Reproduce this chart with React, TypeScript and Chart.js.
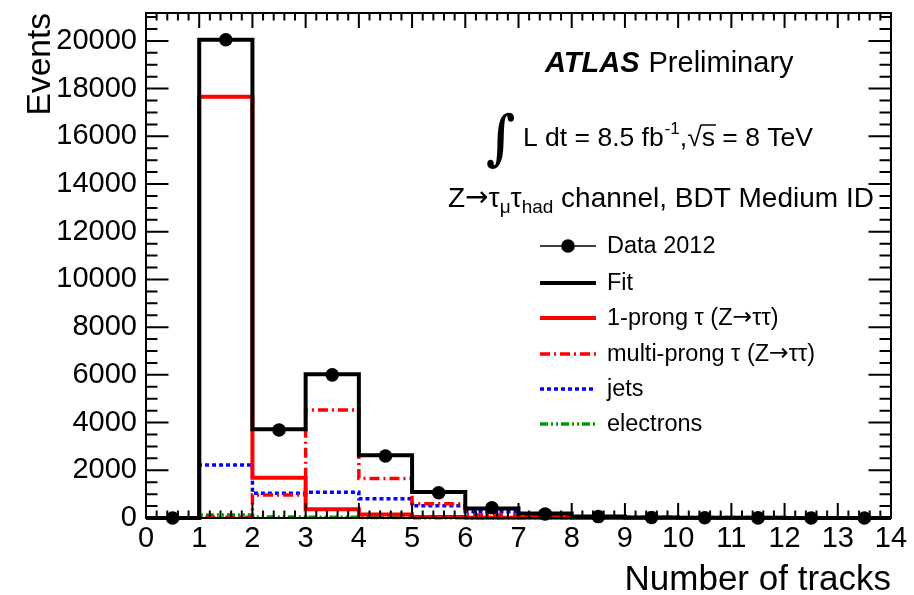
import React, { useEffect, useRef } from "react";
import { Chart, registerables } from "chart.js";

Chart.register(...registerables);

// ---- data (14 bins: [0,1), [1,2), ... [13,14)) ----
const binEdges = [0, 1, 2, 3, 4, 5, 6, 7, 8, 9, 10, 11, 12, 13, 14];
const binCenters = [0.5, 1.5, 2.5, 3.5, 4.5, 5.5, 6.5, 7.5, 8.5, 9.5, 10.5, 11.5, 12.5, 13.5];
const data2012 = [0, 20050, 3690, 6000, 2600, 1060, 430, 170, 60, 20, 10, 5, 3, 2];
const fitValues = [0, 20050, 3720, 6030, 2630, 1085, 400, 190, 60, 25, 12, 6, 3, 2];
const oneProng = [0, 17660, 1690, 365, 150, 40, 15, 8, 4, 2, 1, 0, 0, 0];
const multiProng = [0, 30, 960, 4530, 1660, 600, 130, 50, 20, 8, 4, 2, 1, 0];
const jets = [0, 2220, 1040, 1080, 810, 510, 265, 125, 50, 30, 25, 20, 15, 12];
const electrons = [0, 130, 40, 30, 20, 10, 5, 3, 2, 1, 1, 0, 0, 0];

const xTickValues = [0, 1, 2, 3, 4, 5, 6, 7, 8, 9, 10, 11, 12, 13, 14];
const yTickValues = [0, 2000, 4000, 6000, 8000, 10000, 12000, 14000, 16000, 18000, 20000];
const yTickStep = 2000;
const yMin = 0;
const yMax = 21170;
const xMinorStep = 0.2;
const yMinorStep = 500;

const legendPrefixes = ["Data 2012", "Fit", "1-prong \u03c4 (Z", "multi-prong \u03c4 (Z", "jets", "electrons"];
const legendSuffixes = ["", "", "\u03c4\u03c4)", "\u03c4\u03c4)", "", ""];

const FONT = '"Liberation Sans", Arial, Helvetica, sans-serif';
const RED = "#ff0000";
const BLUE = "#0000ff";
const GREEN = "#009a00";

function stepPoints(vals: number[]) {
  const pts = vals.map((v, i) => ({ x: binEdges[i], y: v }));
  pts.push({ x: binEdges[vals.length], y: vals[vals.length - 1] });
  return pts;
}

const framePlugin = {
  id: "rootFrame",
  afterDatasetsDraw(chart: any) {
    const { ctx, chartArea } = chart;
    const xs = chart.scales.x;
    const ys = chart.scales.y;
    const { left, right, top, bottom } = chartArea;
    ctx.save();
    ctx.strokeStyle = "#000";
    ctx.lineWidth = 2;
    ctx.setLineDash([]);
    ctx.strokeRect(left, top, right - left, bottom - top);
    ctx.beginPath();
    const xMajLen = 15, xMinLen = 7.5;
    for (let v = xs.min; v <= xs.max + 1e-9; v += xMinorStep) {
      const r = Math.round(v * 1000) / 1000;
      const major = Math.abs(r - Math.round(r)) < 1e-6;
      const len = major ? xMajLen : xMinLen;
      const px = xs.getPixelForValue(r);
      ctx.moveTo(px, bottom);
      ctx.lineTo(px, bottom - len);
      ctx.moveTo(px, top);
      ctx.lineTo(px, top + len);
    }
    const yMajLen = 22.5, yMinLen = 11.5;
    for (let v = ys.min; v <= ys.max; v += yMinorStep) {
      const major = v % yTickStep === 0;
      const len = major ? yMajLen : yMinLen;
      const py = ys.getPixelForValue(v);
      ctx.moveTo(left, py);
      ctx.lineTo(left + len, py);
      ctx.moveTo(right, py);
      ctx.lineTo(right - len, py);
    }
    ctx.stroke();
    ctx.restore();
  },
  afterDraw(chart: any) {
    const { ctx, chartArea } = chart;
    ctx.save();
    ctx.fillStyle = "#000";
    ctx.strokeStyle = "#000";
    ctx.textAlign = "left";
    ctx.textBaseline = "alphabetic";

    // axis titles
    ctx.font = `35px ${FONT}`;
    ctx.textAlign = "right";
    ctx.fillText("Number of tracks", chartArea.right, 590);
    ctx.font = `33.5px ${FONT}`;
    ctx.save();
    ctx.translate(50, chartArea.top);
    ctx.rotate(-Math.PI / 2);
    ctx.fillText("Events", 0, 0);
    ctx.restore();
    ctx.textAlign = "left";

    // ATLAS Preliminary
    ctx.font = `bold italic 29px ${FONT}`;
    ctx.fillText("ATLAS", 545, 72);
    let w = ctx.measureText("ATLAS").width;
    ctx.font = `29px ${FONT}`;
    ctx.fillText("Preliminary", 545 + w + 9, 72);

    // Integral luminosity line
    ctx.save();
    ctx.translate(486, 158);
    ctx.scale(1.1, 1.3);
    ctx.font = `bold 46px "DejaVu Serif", ${FONT}`;
    ctx.fillText("\u222b", 0, 0);
    ctx.restore();
    let x = 523;
    const by = 146;
    ctx.font = `26.5px ${FONT}`;
    const part1 = "L dt = 8.5 fb";
    ctx.fillText(part1, x, by);
    x += ctx.measureText(part1).width + 1;
    ctx.font = `17px ${FONT}`;
    ctx.fillText("-1", x, by - 12);
    x += ctx.measureText("-1").width;
    ctx.font = `26.5px ${FONT}`;
    ctx.fillText(",", x, by);
    x += ctx.measureText(",").width;
    ctx.fillText("\u221a", x, by);
    const sqrtW = ctx.measureText("\u221a").width;
    const sx = x + sqrtW;
    ctx.fillText("s", sx, by);
    const sW = ctx.measureText("s").width;
    ctx.lineWidth = 1.5;
    ctx.beginPath();
    ctx.moveTo(sx - 1, by - 21);
    ctx.lineTo(sx + sW + 1, by - 21);
    ctx.stroke();
    x = sx + sW;
    ctx.fillText(" = 8 TeV", x, by);

    // Channel line
    x = 448;
    const cy = 207;
    const big = `28px ${FONT}`;
    const small = `19px ${FONT}`;
    ctx.font = big;
    ctx.fillText("Z", x, cy);
    x += ctx.measureText("Z").width;
    ctx.font = `28px "DejaVu Sans", ${FONT}`;
    ctx.fillText("\u2192", x, cy - 1);
    x += ctx.measureText("\u2192").width;
    ctx.font = big;
    ctx.fillText("\u03c4", x, cy);
    x += ctx.measureText("\u03c4").width;
    ctx.font = small;
    ctx.fillText("\u03bc", x, cy + 6);
    x += ctx.measureText("\u03bc").width;
    ctx.font = big;
    ctx.fillText("\u03c4", x, cy);
    x += ctx.measureText("\u03c4").width;
    ctx.font = small;
    ctx.fillText("had", x, cy + 6);
    x += ctx.measureText("had").width;
    ctx.font = big;
    ctx.fillText(" channel, BDT Medium ID", x, cy);

    // Legend
    const lx0 = 540, lx1 = 596, tx = 607;
    const rowY = [246, 283, 318, 354, 389, 424];
    const styles = [
      { color: "#000", width: 1.5, dash: [] as number[] },
      { color: "#000", width: 4, dash: [] },
      { color: RED, width: 4, dash: [] },
      { color: RED, width: 3.5, dash: [10, 4, 2, 4] },
      { color: BLUE, width: 3.5, dash: [4, 3] },
      { color: GREEN, width: 3.5, dash: [8, 3, 2, 3, 2, 3] },
    ];
    const LF = 23.5;
    ctx.textBaseline = "middle";
    legendPrefixes.forEach((label, i) => {
      const s = styles[i];
      const y = rowY[i];
      ctx.strokeStyle = s.color;
      ctx.lineWidth = s.width;
      ctx.setLineDash(s.dash);
      ctx.beginPath();
      ctx.moveTo(lx0, y);
      ctx.lineTo(lx1, y);
      ctx.stroke();
      if (i === 0) {
        ctx.setLineDash([]);
        ctx.fillStyle = "#000";
        ctx.beginPath();
        ctx.arc((lx0 + lx1) / 2, y, 6.8, 0, Math.PI * 2);
        ctx.fill();
      }
      ctx.fillStyle = "#000";
      let lx = tx;
      ctx.font = `${LF}px ${FONT}`;
      ctx.fillText(label, lx, y + 1);
      if (legendSuffixes[i]) {
        lx += ctx.measureText(label).width;
        ctx.font = `${LF}px "DejaVu Sans", ${FONT}`;
        ctx.fillText("\u2192", lx, y);
        lx += ctx.measureText("\u2192").width;
        ctx.font = `${LF}px ${FONT}`;
        ctx.fillText(legendSuffixes[i], lx, y + 1);
      }
    });
    ctx.restore();
  },
};

export default function App() {
  const canvasRef = useRef<HTMLCanvasElement | null>(null);

  useEffect(() => {
    if (!canvasRef.current) return;
    const stepDs = (label: string, vals: number[], color: string, width: number, dash: number[]) => ({
      type: "line" as const,
      label,
      data: stepPoints(vals),
      stepped: true,
      borderColor: color,
      borderWidth: width,
      borderDash: dash,
      pointRadius: 0,
      fill: false,
      tension: 0,
      clip: 4,
    });
    const chart = new Chart(canvasRef.current, {
      type: "line",
      data: {
        datasets: [
          {
            type: "scatter" as any,
            label: "Data 2012",
            data: binCenters.map((c, i) => ({ x: c, y: data2012[i] })),
            backgroundColor: "#000",
            borderColor: "#000",
            pointRadius: 6.8,
            pointBorderWidth: 0,
            showLine: false,
            clip: false as any,
          },
          stepDs("Fit", fitValues, "#000", 4, []),
          stepDs("1-prong", oneProng, RED, 4, []),
          stepDs("multi-prong", multiProng, RED, 3.5, [10, 4, 2, 4]),
          stepDs("jets", jets, BLUE, 3.5, [4, 3]),
          stepDs("electrons", electrons, GREEN, 3.5, [8, 3, 2, 3, 2, 3]),
        ] as any,
      },
      options: {
        animation: false,
        responsive: false,
        maintainAspectRatio: false,
        layout: { padding: { left: 0, top: 13, right: 23, bottom: 0 } },
        plugins: { legend: { display: false }, tooltip: { enabled: false } },
        events: [],
        scales: {
          x: {
            type: "linear",
            min: 0,
            max: 14,
            grid: { display: false, drawTicks: false },
            border: { display: false },
            afterBuildTicks: (scale: any) => {
              scale.ticks = xTickValues.map((v) => ({ value: v }));
            },
            afterFit: (scale: any) => {
              scale.height = 77;
              scale.paddingLeft = 0;
              scale.paddingRight = 0;
            },
            ticks: {
              font: { family: FONT, size: 29 },
              color: "#000",
              padding: 4,
              maxRotation: 0,
              autoSkip: false,
              includeBounds: false,
              callback: (v: any) => String(v),
            },
          },
          y: {
            type: "linear",
            min: yMin,
            max: yMax,
            grid: { display: false, drawTicks: false },
            border: { display: false },
            afterBuildTicks: (scale: any) => {
              scale.ticks = yTickValues.map((v) => ({ value: v }));
            },
            afterFit: (scale: any) => {
              scale.width = 146;
              scale.paddingTop = 0;
              scale.paddingBottom = 0;
            },
            ticks: {
              font: { family: FONT, size: 29 },
              color: "#000",
              padding: 9,
              autoSkip: false,
              includeBounds: false,
              callback: (v: any) => String(v),
            },
          },
        },
      },
      plugins: [framePlugin],
    });
    return () => chart.destroy();
  }, []);

  return (
    <div style={{ position: "absolute", left: 0, top: 0, width: 914, height: 595, background: "#fff" }}>
      <canvas ref={canvasRef} width={914} height={595} style={{ width: 914, height: 595 }} />
    </div>
  );
}
